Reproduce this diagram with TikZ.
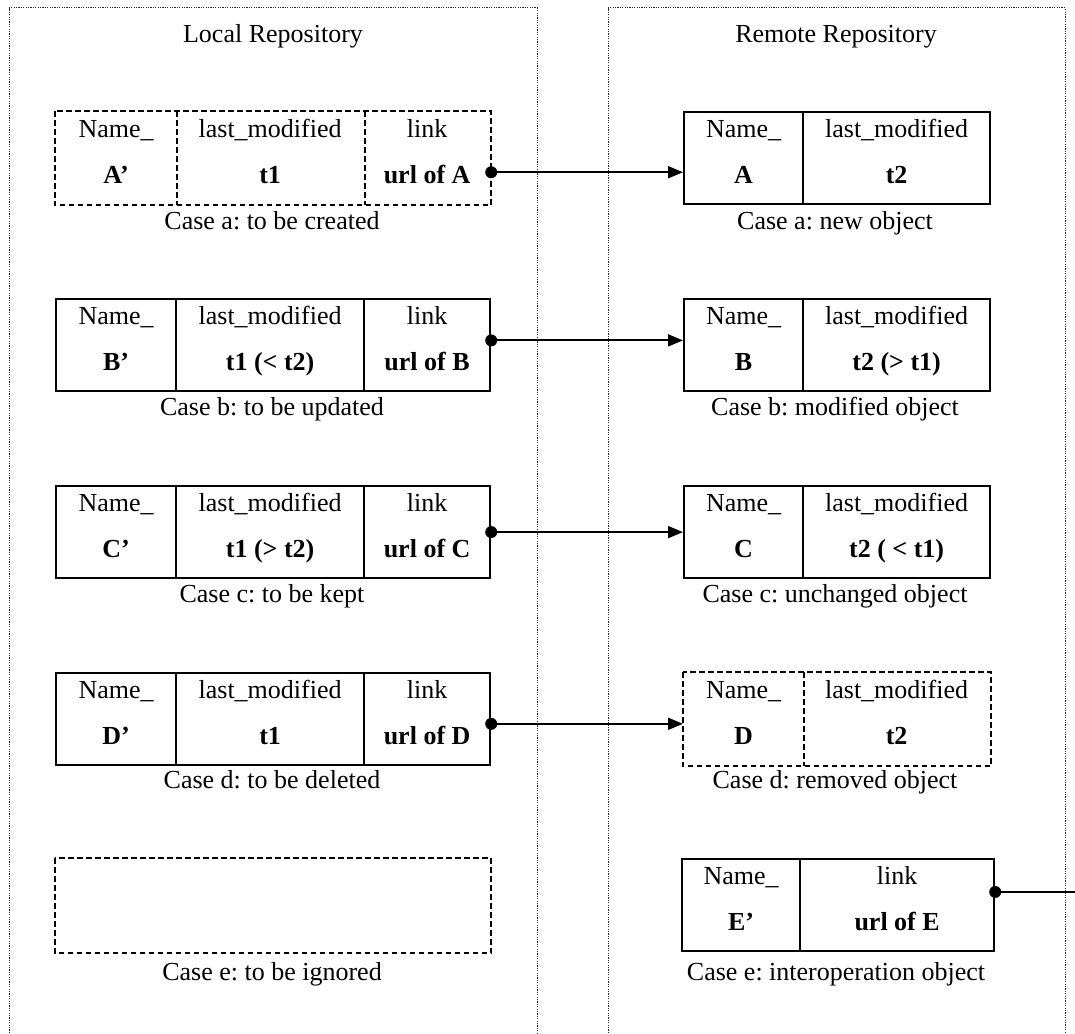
\documentclass[tikz,border=0pt]{standalone}
\usepackage{fontspec}
\setmainfont{Liberation Serif}
\usetikzlibrary{arrows.meta,calc}
\frenchspacing

\tikzset{
  cellbox/.style={draw, line width=2.2pt, inner sep=0pt, anchor=north west},
  opencell/.style={draw=none},
  dashedline/.style={line width=2.2pt, dash pattern=on 5.5pt off 3.5pt},
  panel/.style={draw=black!85, line width=1pt, dash pattern=on 1.2pt off 1.2pt},
  conn/.style={line width=1.8pt, -{Triangle[length=15pt,width=12pt]}},
  plainconn/.style={line width=1.8pt},
  hdr/.style={anchor=base, inner sep=0pt, font=\fontsize{26}{30}\selectfont},
  val/.style={anchor=base, inner sep=0pt, font=\fontsize{26}{30}\selectfont\bfseries},
  captext/.style={anchor=base, inner sep=0pt, font=\fontsize{26}{30}\selectfont},
}

% one table cell: name, left x, right x, top y, header text, value text, extra style
\newcommand\rcell[7]{%
  \node[cellbox,#7,minimum width=#3pt-#2pt,minimum height=92pt] (#1) at (#2,#4) {};
  \node[hdr] (#1h) at ($(#1.north)+(0,26)$) {#5};
  \node[val] (#1v) at ($(#1.north)+(0,72)$) {#6};
}

\begin{document}
\begin{tikzpicture}[x=1pt,y=-1pt]
\useasboundingbox (0,0) rectangle (1075,1033);

% repository panels
\draw[panel] (9,1033) -- (9,8) -- (537,8) -- (537,1033);
\draw[panel] (608,1033) -- (608,8) -- (1065,8) -- (1065,1033);
\node[captext] (ltitle) at (273,43) {Local Repository};
\node[captext] (rtitle) at (836,43) {Remote Repository};

% ---- local objects ----
\rcell{lA1}{55}{175}{111}{Name\_}{A’}{opencell}
\rcell{lA2}{175}{363}{111}{last\_modified}{t1}{opencell}
\rcell{lA3}{363}{489}{111}{link}{url of A}{opencell}
\draw[dashedline] (lA1.north west) rectangle (lA3.south east);
\draw[dashedline] (lA1.north east) -- (lA1.south east);
\draw[dashedline] (lA2.north east) -- (lA2.south east);
\node[captext] (lAc) at (272,229) {Case a: to be created};

\rcell{lB1}{55}{175}{298}{Name\_}{B’}{}
\rcell{lB2}{175}{363}{298}{last\_modified}{t1 (< t2)}{}
\rcell{lB3}{363}{489}{298}{link}{url of B}{}
\node[captext] (lBc) at (272,415) {Case b: to be updated};

\rcell{lC1}{55}{175}{485}{Name\_}{C’}{}
\rcell{lC2}{175}{363}{485}{last\_modified}{t1 (> t2)}{}
\rcell{lC3}{363}{489}{485}{link}{url of C}{}
\node[captext] (lCc) at (272,602) {Case c: to be kept};

\rcell{lD1}{55}{175}{672}{Name\_}{D’}{}
\rcell{lD2}{175}{363}{672}{last\_modified}{t1}{}
\rcell{lD3}{363}{489}{672}{link}{url of D}{}
\node[captext] (lDc) at (272,788) {Case d: to be deleted};

\node[cellbox,opencell,minimum width=434pt,minimum height=93pt] (lE) at (55,858) {};
\draw[dashedline] (lE.north west) rectangle (lE.south east);
\node[captext] (lEc) at (272,980) {Case e: to be ignored};

% ---- remote objects ----
\rcell{rA1}{683}{802}{111}{Name\_}{A}{}
\rcell{rA2}{802}{989}{111}{last\_modified}{t2}{}
\node[captext] (rAc) at (835,229) {Case a: new object};

\rcell{rB1}{683}{802}{298}{Name\_}{B}{}
\rcell{rB2}{802}{989}{298}{last\_modified}{t2 (> t1)}{}
\node[captext] (rBc) at (835,415) {Case b: modified object};

\rcell{rC1}{683}{802}{485}{Name\_}{C}{}
\rcell{rC2}{802}{989}{485}{last\_modified}{t2 ( < t1)}{}
\node[captext] (rCc) at (835,602) {Case c: unchanged object};

\rcell{rD1}{683}{802}{672}{Name\_}{D}{opencell}
\rcell{rD2}{802}{989}{672}{last\_modified}{t2}{opencell}
\draw[dashedline] (rD1.north west) rectangle (rD2.south east);
\draw[dashedline] (rD1.north east) -- (rD1.south east);
\node[captext] (rDc) at (835,788) {Case d: removed object};

\rcell{rE1}{681}{799}{858}{Name\_}{E’}{}
\rcell{rE2}{799}{993}{858}{link}{url of E}{}
\node[captext] (rEc) at (836,980) {Case e: interoperation object};

% ---- links ----
\coordinate (sA) at ($(lA3.north east)!0.65!(lA3.south east)$);
\coordinate (sB) at ($(lB3.north east)!0.45!(lB3.south east)$);
\coordinate (sC) at ($(lC3.north east)!0.5!(lC3.south east)$);
\coordinate (sD) at ($(lD3.north east)!0.55!(lD3.south east)$);
\coordinate (sE) at ($(rE2.north east)!0.36!(rE2.south east)$);
\coordinate (edge) at (1075,0);

\draw[conn] (sA) -- (sA -| rA1.west);
\draw[conn] (sB) -- (sB -| rB1.west);
\draw[conn] (sC) -- (sC -| rC1.west);
\draw[conn] (sD) -- (sD -| rD1.west);
\draw[plainconn] (sE) -- (sE -| edge);

\foreach \p in {sA,sB,sC,sD,sE} \fill (\p) circle (6pt);
\end{tikzpicture}
\end{document}
